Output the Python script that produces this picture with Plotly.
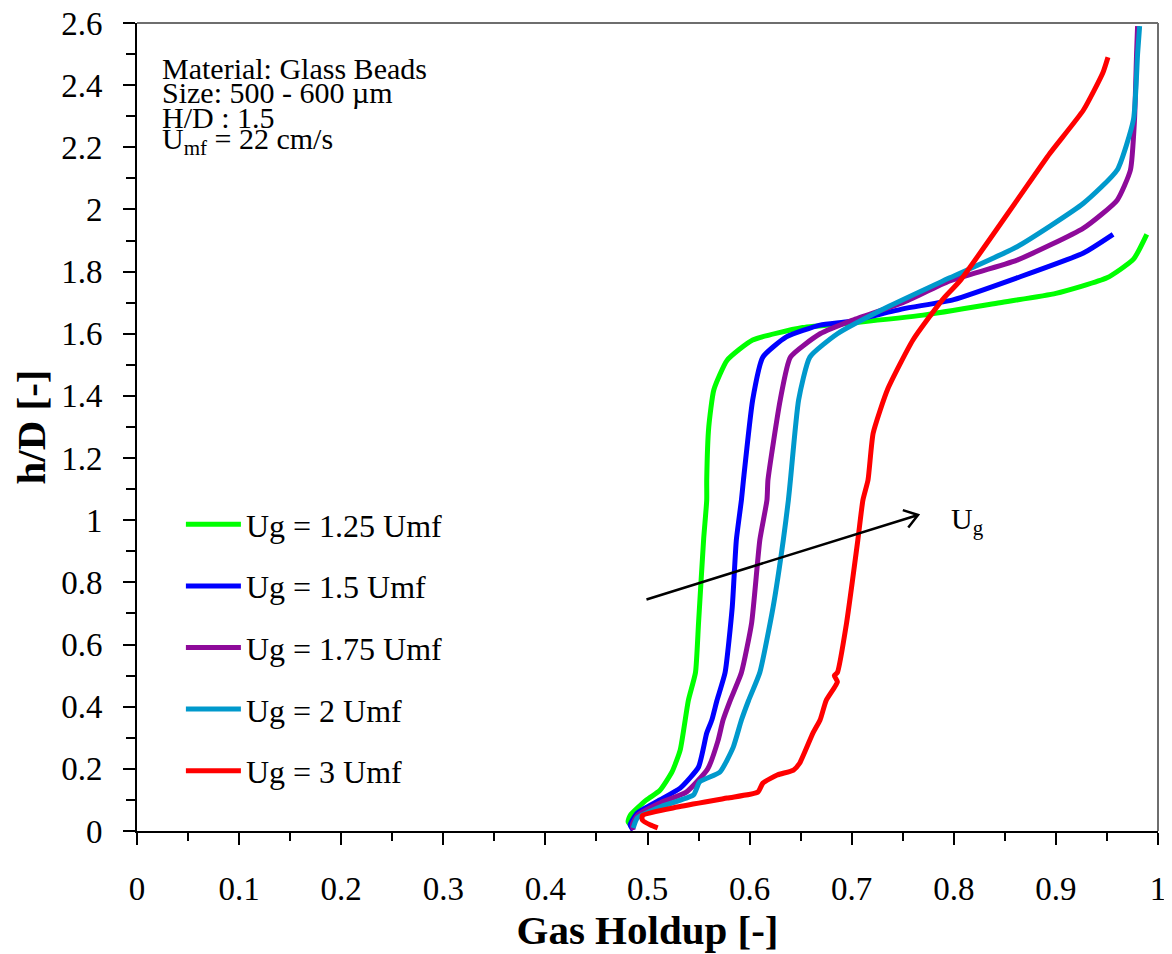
import plotly.graph_objects as go
import numpy as np

# ---------------- data ----------------
series_names = ["Ug = 1.25 Umf", "Ug = 1.5 Umf", "Ug = 1.75 Umf", "Ug = 2 Umf", "Ug = 3 Umf"]
series_colors = ["#00FF00", "#0000FF", "#8E0A9A", "#0099CC", "#FF0000"]

g125_x = [0.486, 0.481, 0.483, 0.499, 0.512, 0.524, 0.532, 0.540, 0.547, 0.550, 0.555, 0.558, 0.558,
          0.560, 0.565, 0.578, 0.603, 0.652, 0.700, 0.770, 0.845, 0.900, 0.950, 0.976, 0.989]
g125_y = [0.01, 0.03, 0.05, 0.10, 0.13, 0.19, 0.26, 0.42, 0.51, 0.67, 0.94, 1.065, 1.13,
          1.30, 1.42, 1.515, 1.58, 1.62, 1.635, 1.66, 1.70, 1.73, 1.78, 1.84, 1.92]

g150_x = [0.486, 0.483, 0.490, 0.512, 0.532, 0.550, 0.558, 0.563, 0.568, 0.576, 0.583, 0.587, 0.592,
          0.594, 0.603, 0.613, 0.636, 0.669, 0.698, 0.750, 0.800, 0.862, 0.927, 0.956]
g150_y = [0.003, 0.02, 0.058, 0.10, 0.138, 0.206, 0.315, 0.357, 0.42, 0.51, 0.72, 0.936, 1.065,
          1.13, 1.387, 1.525, 1.59, 1.628, 1.64, 1.68, 1.71, 1.78, 1.86, 1.92]

g175_x = [0.486, 0.485, 0.490, 0.512, 0.538, 0.559, 0.569, 0.574, 0.581, 0.592, 0.602, 0.610, 0.617,
          0.618, 0.630, 0.640, 0.669, 0.701, 0.750, 0.796, 0.862, 0.927, 0.960, 0.973, 0.977, 0.979, 0.980]
g175_y = [0.003, 0.02, 0.05, 0.09, 0.125, 0.20, 0.29, 0.357, 0.42, 0.51, 0.67, 0.936, 1.065,
          1.13, 1.387, 1.525, 1.60, 1.644, 1.70, 1.77, 1.837, 1.94, 2.03, 2.127, 2.29, 2.50, 2.59]

g200_x = [0.486, 0.490, 0.512, 0.545, 0.551, 0.571, 0.584, 0.592, 0.599, 0.610, 0.623, 0.633, 0.638,
          0.640, 0.648, 0.659, 0.686, 0.735, 0.796, 0.862, 0.927, 0.960, 0.976, 0.980, 0.982]
g200_y = [0.01, 0.042, 0.077, 0.116, 0.158, 0.19, 0.27, 0.357, 0.42, 0.51, 0.72, 0.936, 1.065,
          1.13, 1.387, 1.525, 1.60, 1.686, 1.78, 1.88, 2.02, 2.127, 2.29, 2.50, 2.59]

g300_x = [0.510, 0.503, 0.495, 0.495, 0.529, 0.578, 0.608, 0.613, 0.627, 0.643, 0.649, 0.662, 0.669,
          0.675, 0.686, 0.683, 0.686, 0.695, 0.706, 0.711, 0.716, 0.721, 0.735, 0.760, 0.789, 0.806,
          0.862, 0.894, 0.927, 0.946, 0.951]
g300_y = [0.01, 0.019, 0.035, 0.05, 0.077, 0.106, 0.125, 0.154, 0.18, 0.196, 0.218, 0.315, 0.357,
          0.42, 0.48, 0.50, 0.51, 0.67, 0.936, 1.065, 1.13, 1.28, 1.42, 1.58, 1.71, 1.77,
          2.03, 2.18, 2.32, 2.44, 2.49]

series_x = [g125_x, g150_x, g175_x, g200_x, g300_x]
series_y = [g125_y, g150_y, g175_y, g200_y, g300_y]

info_lines = ["Material: Glass Beads", "Size: 500 - 600 \u00b5m", "H/D : 1.5", "U<sub>mf</sub> = 22 cm/s"]
arrow_start = (0.499, 0.745)
arrow_end = (0.765, 1.017)
arrow_label = "U<sub>g</sub>"

x_ticks = [0, 0.1, 0.2, 0.3, 0.4, 0.5, 0.6, 0.7, 0.8, 0.9, 1]
y_ticks = [0, 0.2, 0.4, 0.6, 0.8, 1, 1.2, 1.4, 1.6, 1.8, 2, 2.2, 2.4, 2.6]

# ---------------- figure ----------------
FONT = "Liberation Serif"
# page body has an 8px margin: size/margins compensate so the plot area lands at the reference place
W, H = 1164, 946
ML, MR, MT, MB = 129, 14, 15, 123
pw = W - ML - MR
ph = H - MT - MB

fig = go.Figure()
for i, (name, col) in enumerate(zip(series_names, series_colors)):
    fig.add_trace(go.Scatter(
        x=series_x[i], y=series_y[i], mode="lines", name=name,
        line=dict(color=col, width=5, shape="spline", smoothing=0.5),
        legendgroup=f"g{i}",
    ))

# arrow (line + open V head)
sx, sy = pw / 1.0, ph / 2.6
dx_px = (arrow_end[0] - arrow_start[0]) * sx
dy_px = (arrow_end[1] - arrow_start[1]) * sy
L = np.hypot(dx_px, dy_px)
ux, uy = dx_px / L, dy_px / L
head = 16
wings = []
for ang in (np.deg2rad(35), -np.deg2rad(35)):
    cx = -(ux * np.cos(ang) - uy * np.sin(ang))
    cy = -(ux * np.sin(ang) + uy * np.cos(ang))
    wings.append((arrow_end[0] + cx * head / sx, arrow_end[1] + cy * head / sy))
path = (f"M {arrow_start[0]},{arrow_start[1]} L {arrow_end[0]},{arrow_end[1]} "
        f"M {wings[0][0]},{wings[0][1]} L {arrow_end[0]},{arrow_end[1]} L {wings[1][0]},{wings[1][1]}")
fig.add_shape(type="path", path=path, xref="x", yref="y", line=dict(color="black", width=2.5))

fig.add_annotation(x=arrow_end[0] + 0.03, y=arrow_end[1] - 0.02, xref="x", yref="y",
                   text=arrow_label, showarrow=False, xanchor="left", yanchor="middle",
                   font=dict(family=FONT, size=30, color="black"))

# top / right border of the plot area
fig.add_shape(type="line", x0=0, x1=1, y0=1, y1=1, xref="paper", yref="paper",
              line=dict(color="#6e6e6e", width=2), layer="above")
fig.add_shape(type="line", x0=1, x1=1, y0=0, y1=1, xref="paper", yref="paper",
              line=dict(color="#6e6e6e", width=2), layer="above")

# info text block (pixel centres measured from the plot-area top)
info_offsets_px = [45, 70, 94, 118]
for txt, off in zip(info_lines, info_offsets_px):
    fig.add_annotation(x=23 / pw, y=1 - off / ph, xref="paper", yref="paper",
                       text=txt, showarrow=False, xanchor="left", yanchor="middle",
                       font=dict(family=FONT, size=30, color="black"))

axis_common = dict(
    showgrid=False, zeroline=False, showline=True, linecolor="black", linewidth=2,
    ticks="outside", tickcolor="black", tickwidth=2, ticklen=12,
    tickfont=dict(family=FONT, size=33, color="black"),
    ticklabeloverflow="allow",
)

fig.update_xaxes(range=[0, 1], tickvals=x_ticks, ticktext=[f"{v:g}" for v in x_ticks],
                 minor=dict(ticks="outside", ticklen=8, tickwidth=2, tickcolor="black", dtick=0.05),
                 title=dict(text="<b>Gas Holdup [-]</b>", font=dict(family=FONT, size=41, color="black"),
                            standoff=2),
                 ticklabelstandoff=15, **axis_common)
fig.update_yaxes(range=[0, 2.6], tickvals=y_ticks, ticktext=[f"{v:g}" for v in y_ticks],
                 minor=dict(ticks="outside", ticklen=9, tickwidth=2, tickcolor="black", dtick=0.1),
                 title=dict(text="<b>h/D [-]</b>", font=dict(family=FONT, size=41, color="black"),
                            standoff=10),
                 ticklabelstandoff=14, **axis_common)

fig.update_layout(
    width=W, height=H,
    margin=dict(l=ML, r=MR, t=MT, b=MB, autoexpand=False),
    paper_bgcolor="white", plot_bgcolor="white",
    showlegend=True,
    legend=dict(x=0.043, y=1 - 474 / ph, xanchor="left", yanchor="top",
                font=dict(family=FONT, size=32, color="black"),
                bgcolor="rgba(0,0,0,0)", traceorder="grouped", tracegroupgap=17,
                itemwidth=55),
    font=dict(family=FONT, color="black"),
)

fig.write_html("out.html")
